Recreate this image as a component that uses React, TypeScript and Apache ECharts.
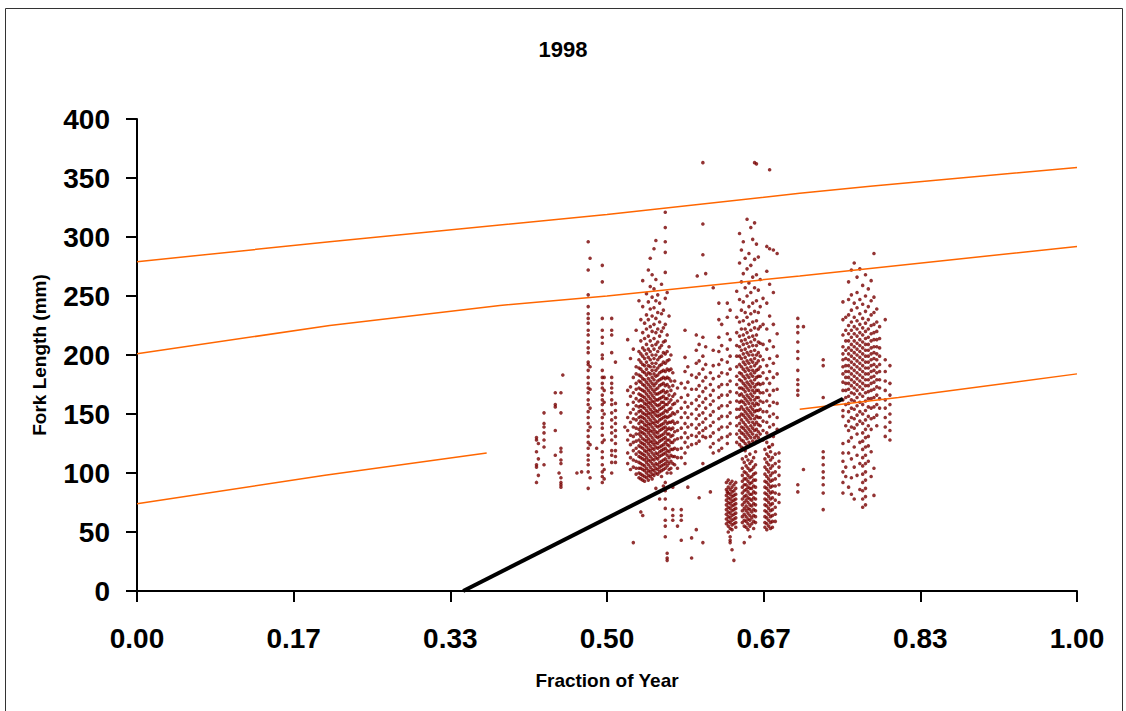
import React, { useEffect, useRef } from "react";
import * as echarts from "echarts";

type Column = [number, number[]];

// ---- Scatter data: columns of fish sampled at a given fraction of year (x) with fork lengths (mm)
const clusterEarly: Column[] = [
  [0.425, [130, 128, 118, 107, 105, 92]],
  [0.427, [125, 112, 98]],
  [0.433, [151, 142, 139, 134, 128, 122, 107]],
  [0.445, [168, 158, 156, 136, 115]],
  [0.449, [100]],
  [0.451, [168, 151, 121, 118, 111, 108, 96, 92, 90, 88]],
  [0.453, [183]],
];

const clusterJuly: Column[] = [
  [0.468, [100]],
  [0.473, [101]],
  [0.48, [296, 272, 251, 241, 235, 231, 227, 221, 217, 211, 206, 202, 194, 192, 187, 181, 176, 172, 168, 162, 158, 152, 147, 142, 136, 131, 126, 121, 115, 111, 107, 101, 87]],
  [0.482, [282, 190, 171, 155, 139, 124, 96]],
  [0.489, [121]],
  [0.495, [276, 262, 231, 221, 215, 210, 200, 197, 187, 181, 176, 172, 166, 162, 158, 153, 147, 142, 138, 132, 126, 118, 113, 107, 101, 97, 92]],
  [0.497, [181, 170, 160, 150, 128, 103, 95]],
  [0.505, [231, 221, 217, 202, 181, 176, 172, 168, 162, 158, 151, 145, 139, 134, 128, 119, 115, 109, 100]],
  [0.509, [194, 159, 153, 147, 142, 136, 131, 125, 119, 114, 109]],
  [0.519, [139]],
];

const clusterMain: Column[] = [
  [0.522, [213, 170, 158, 147, 136, 128, 117, 108]],
  [0.525, [197, 173, 165, 151, 143, 132, 124, 113, 103]],
  [0.528, [205, 181, 168, 160, 154, 146, 139, 131, 126, 119, 111, 105, 41]],
  [0.531, [221, 190, 184, 176, 171, 163, 157, 150, 145, 138, 133, 127, 121, 116, 110, 104, 99]],
  [0.534, [246, 203, 196, 189, 183, 178, 172, 167, 161, 156, 152, 147, 142, 137, 133, 128, 123, 118, 114, 109, 104, 100, 96]],
  [0.536, [230, 212, 201, 194, 188, 182, 177, 171, 166, 162, 157, 153, 148, 144, 139, 135, 131, 126, 122, 117, 113, 108, 104, 99, 95, 67]],
  [0.538, [263, 241, 219, 206, 199, 192, 186, 180, 175, 170, 165, 161, 156, 151, 147, 143, 138, 134, 129, 125, 121, 116, 112, 107, 103, 98, 94, 64]],
  [0.54, [227, 214, 204, 197, 191, 185, 179, 174, 169, 164, 159, 155, 150, 146, 141, 137, 133, 128, 124, 119, 115, 111, 106, 102, 97, 93]],
  [0.542, [252, 234, 222, 209, 201, 194, 188, 183, 177, 172, 167, 162, 158, 153, 149, 144, 140, 136, 131, 127, 122, 118, 113, 109, 104, 100, 96]],
  [0.544, [272, 245, 230, 216, 205, 198, 191, 185, 180, 175, 170, 165, 160, 156, 151, 147, 142, 138, 134, 129, 125, 120, 116, 111, 107, 102, 98, 94]],
  [0.546, [282, 258, 239, 224, 212, 203, 196, 190, 184, 178, 173, 168, 163, 159, 154, 150, 145, 141, 136, 132, 127, 123, 119, 114, 110, 105, 101, 97]],
  [0.548, [268, 249, 233, 220, 208, 200, 193, 187, 181, 176, 171, 166, 161, 157, 152, 148, 143, 139, 135, 130, 126, 121, 117, 112, 108, 103, 99, 95]],
  [0.55, [290, 256, 240, 226, 214, 205, 197, 190, 184, 179, 174, 169, 164, 160, 155, 151, 146, 142, 137, 133, 128, 124, 120, 115, 111, 106, 102, 98]],
  [0.552, [297, 264, 246, 231, 219, 209, 200, 193, 187, 182, 176, 171, 167, 162, 158, 153, 149, 144, 140, 135, 131, 126, 122, 117, 113, 108, 104, 100, 87]],
  [0.554, [251, 236, 222, 211, 203, 196, 189, 183, 178, 172, 167, 162, 157, 152, 148, 143, 139, 134, 130, 125, 121, 116, 112, 107, 103, 99]],
  [0.556, [244, 228, 216, 206, 198, 191, 185, 179, 174, 168, 163, 158, 154, 149, 145, 140, 136, 131, 127, 122, 118, 114, 109, 105, 101, 78]],
  [0.558, [260, 235, 220, 208, 199, 192, 186, 180, 175, 169, 164, 160, 155, 150, 146, 141, 137, 132, 128, 123, 119, 115, 110, 106, 102, 97]],
  [0.56, [238, 223, 211, 202, 194, 187, 181, 176, 170, 165, 160, 156, 151, 147, 142, 138, 133, 129, 124, 120, 116, 111, 107, 103, 89]],
  [0.562, [321, 308, 296, 287, 270, 248, 226, 212, 201, 193, 186, 180, 174, 168, 163, 158, 153, 148, 144, 139, 135, 130, 126, 121, 117, 112, 108, 104, 92, 85, 78, 70, 60, 55, 46]],
  [0.564, [253, 217, 203, 195, 188, 181, 175, 169, 163, 158, 152, 147, 142, 137, 133, 128, 124, 119, 115, 110, 106, 100, 32, 28, 26]],
  [0.566, [233, 207, 196, 187, 180, 173, 166, 160, 154, 148, 143, 138, 133, 128, 123, 118, 113, 108, 103]],
  [0.568, [200, 188, 178, 170, 162, 155, 149, 143, 137, 131, 126, 120, 115, 110, 104, 100]],
  [0.57, [185, 174, 165, 158, 151, 144, 138, 132, 126, 120, 114, 108, 88, 69, 64, 60]],
  [0.572, [178, 167, 159, 150, 142, 135, 128, 121, 114, 107]],
  [0.575, [172, 161, 152, 143, 136, 129, 120, 113, 104, 55]],
];

const clusterAugust: Column[] = [
  [0.579, [176, 164, 155, 147, 138, 130, 121, 113, 69, 64, 60, 43]],
  [0.583, [221, 198, 186, 172, 160, 151, 142, 134, 126, 117, 108]],
  [0.586, [190, 177, 166, 156, 147, 139, 130, 122, 88]],
  [0.59, [183, 171, 159, 150, 141, 132, 124, 45, 28]],
  [0.595, [217, 204, 193, 181, 171, 162, 154, 146, 138, 131, 125, 52]],
  [0.596, [267]],
  [0.598, [209, 195, 184, 174, 165, 157, 149, 141, 134, 127, 79]],
  [0.602, [363, 311, 285, 215, 199, 188, 178, 169, 160, 151, 143, 136, 131, 108, 41]],
  [0.605, [269, 207, 192, 181, 172, 163, 155, 146, 138, 130]],
  [0.61, [185, 175, 166, 158, 149, 140, 131, 122, 84]],
  [0.613, [257, 204, 191, 180, 170, 161, 152, 143, 134, 125, 117]],
  [0.619, [244, 230, 215, 203, 192, 182, 173, 164, 155, 146, 137, 128, 119]],
  [0.622, [226, 208, 196, 185, 175, 166, 157, 148, 139, 130, 121]],
  [0.628, [244, 232, 218, 205, 194, 184, 175, 166, 157, 148, 139, 131, 125, 84]],
  [0.631, [238, 213, 199, 188, 178, 169, 160, 151, 142, 133, 43]],
];

const clusterSeptUpper: Column[] = [
  [0.638, [254, 232, 219, 208, 199, 190, 182, 175, 168, 161, 154, 147, 140, 133, 126]],
  [0.641, [303, 278, 247, 228, 216, 207, 199, 192, 185, 179, 172, 166, 160, 154, 148, 142, 136, 130, 124]],
  [0.643, [289, 262, 238, 222, 212, 204, 197, 190, 184, 178, 172, 167, 161, 156, 150, 145, 139, 134, 128, 122]],
  [0.645, [296, 269, 245, 229, 217, 209, 201, 194, 188, 182, 176, 171, 165, 160, 154, 149, 143, 138, 133, 127, 121]],
  [0.647, [282, 257, 236, 222, 213, 205, 198, 192, 186, 180, 174, 169, 163, 158, 152, 147, 141, 136, 131, 125, 119]],
  [0.649, [315, 273, 250, 232, 219, 210, 202, 195, 189, 183, 177, 172, 166, 161, 155, 150, 145, 139, 134, 129, 123]],
  [0.651, [286, 261, 241, 226, 215, 207, 200, 193, 187, 181, 175, 170, 164, 159, 153, 148, 143, 137, 132, 126]],
  [0.653, [308, 276, 253, 235, 221, 211, 203, 196, 190, 184, 178, 173, 167, 162, 156, 151, 146, 140, 135, 130, 124]],
  [0.655, [298, 266, 244, 228, 216, 208, 200, 194, 187, 182, 176, 170, 165, 159, 154, 149, 143, 138, 133, 127]],
  [0.657, [363, 312, 281, 257, 237, 223, 213, 204, 197, 191, 185, 179, 173, 168, 162, 157, 152, 146, 141, 136, 130, 125]],
  [0.659, [362, 294, 268, 246, 229, 217, 208, 200, 193, 187, 181, 175, 170, 164, 159, 153, 148, 143, 137, 132, 127]],
  [0.661, [283, 255, 236, 222, 211, 202, 195, 188, 182, 176, 170, 164, 158, 153, 147, 141, 135, 130]],
  [0.663, [264, 241, 224, 210, 199, 190, 182, 175, 168, 161, 154, 147, 140, 133]],
  [0.666, [248, 226, 209, 196, 185, 176, 168, 160, 152, 144, 136, 128]],
  [0.67, [292, 271, 244, 222, 205, 191, 180, 170, 161, 152, 143, 134, 126]],
  [0.673, [357, 290, 260, 233, 212, 197, 186, 176, 166, 157, 148, 139, 131, 122]],
  [0.677, [289, 253, 226, 207, 193, 181, 170, 160, 150, 141, 131]],
  [0.681, [286, 218, 199, 184, 171, 159, 147, 137]],
];

const clusterSeptLower: Column[] = [
  [0.627, [92, 86, 81, 77, 73, 69, 65, 61, 57]],
  [0.629, [94, 88, 83, 79, 75, 71, 67, 63, 59, 55, 50]],
  [0.631, [91, 86, 82, 78, 74, 70, 66, 62, 58, 53, 46, 41]],
  [0.633, [93, 88, 84, 80, 76, 72, 68, 64, 60, 56, 52, 35]],
  [0.635, [90, 85, 81, 77, 73, 69, 65, 61, 57, 26]],
  [0.637, [92, 87, 82, 78, 74, 70, 66, 62, 58, 54]],
  [0.644, [112, 104, 98, 93, 88, 83, 78, 73, 68, 63, 58]],
  [0.646, [109, 101, 95, 90, 85, 80, 75, 70, 65, 60, 55, 41]],
  [0.648, [114, 106, 100, 95, 90, 86, 81, 77, 72, 68, 63, 59, 54]],
  [0.65, [111, 104, 98, 93, 88, 84, 79, 75, 70, 66, 61, 57, 52]],
  [0.652, [116, 108, 102, 96, 91, 87, 82, 78, 73, 69, 64, 60, 55, 46]],
  [0.654, [110, 103, 97, 92, 87, 82, 77, 72, 67, 62, 57]],
  [0.656, [113, 105, 99, 94, 89, 84, 79, 74, 69, 64, 59, 53]],
  [0.658, [118, 107, 100, 94, 88, 83, 78, 73, 68, 63, 58]],
  [0.668, [120, 112, 105, 99, 93, 88, 83, 78, 73, 68, 63, 58, 54]],
  [0.67, [116, 109, 103, 97, 92, 87, 82, 77, 72, 67, 62, 57, 52]],
  [0.672, [122, 114, 107, 101, 95, 90, 85, 80, 75, 70, 65, 60, 55]],
  [0.674, [118, 111, 104, 98, 93, 88, 83, 78, 73, 68, 63, 58, 53]],
  [0.676, [124, 113, 106, 100, 94, 89, 84, 79, 74, 69, 64, 59, 54]],
  [0.679, [116, 108, 101, 95, 89, 83, 77, 71, 65, 59]],
  [0.683, [117, 110, 105, 98, 90, 82, 75]],
];

const clusterOctober: Column[] = [
  [0.703, [231, 224, 219, 211, 203, 197, 187, 179, 175, 170, 166, 90, 84]],
  [0.709, [224, 103]],
  [0.73, [196, 191, 164, 118, 113, 107, 101, 96, 90, 83, 69]],
];

const clusterNovember: Column[] = [
  [0.751, [245, 230, 217, 207, 201, 196, 190, 184, 177, 170, 162, 153, 148, 125, 117, 110, 101, 92, 83]],
  [0.754, [232, 221, 212, 204, 197, 191, 186, 181, 176, 170, 164, 158, 140, 105, 97]],
  [0.757, [262, 247, 234, 225, 218, 212, 206, 201, 196, 191, 186, 181, 176, 171, 165, 159, 152, 144, 136, 127, 117, 88]],
  [0.76, [272, 251, 238, 228, 221, 215, 209, 204, 199, 194, 189, 184, 179, 174, 168, 162, 155, 147, 139, 130, 112, 96, 82]],
  [0.763, [278, 244, 232, 224, 218, 212, 207, 202, 197, 192, 187, 182, 177, 172, 167, 161, 154, 146, 138, 122, 105, 78]],
  [0.766, [266, 253, 240, 229, 222, 216, 210, 205, 200, 195, 190, 185, 180, 175, 170, 164, 157, 149, 141, 133, 115, 98]],
  [0.769, [273, 247, 235, 226, 219, 213, 208, 203, 198, 193, 188, 183, 178, 173, 167, 160, 152, 144, 126, 108, 86]],
  [0.772, [259, 243, 231, 223, 217, 211, 206, 201, 196, 191, 186, 181, 176, 171, 165, 158, 150, 142, 134, 127, 120, 113, 106, 99, 92, 85, 78, 71]],
  [0.775, [268, 250, 237, 227, 220, 214, 209, 204, 199, 194, 189, 184, 179, 174, 168, 161, 153, 145, 137, 130, 122, 115, 108, 101, 94, 87, 80, 73]],
  [0.778, [256, 241, 230, 222, 215, 209, 204, 199, 194, 189, 184, 179, 174, 169, 163, 156, 148, 140, 131, 123, 110]],
  [0.781, [263, 246, 234, 225, 218, 212, 206, 201, 196, 191, 186, 181, 176, 170, 163, 155, 146, 137, 118, 97]],
  [0.784, [286, 249, 236, 226, 219, 213, 207, 202, 197, 192, 187, 182, 177, 171, 164, 156, 147, 104, 81]],
  [0.787, [239, 228, 220, 213, 207, 201, 196, 190, 185, 179, 173, 166, 158, 149, 140]],
  [0.79, [224, 214, 206, 199, 192, 186, 179, 172, 163, 155]],
  [0.796, [230, 196, 186, 178, 170, 162, 155, 147, 139, 131]],
  [0.801, [191, 176, 166, 158, 150, 143, 136, 128]],
];

// ---- Reference growth curves (mm) by fraction of year
const upperCurve: [number, number][] = [[0, 279], [0.205, 296], [0.5, 319], [0.705, 337], [0.78, 343], [1, 359]];
const middleCurve: [number, number][] = [[0, 201], [0.205, 225], [0.386, 242], [0.5, 250], [0.705, 267], [1, 292]];
const lowerCurveEarly: [number, number][] = [[0, 74], [0.2, 98], [0.372, 117]];
const lowerCurveLate: [number, number][] = [[0.705, 154], [0.81, 164], [1, 184]];
const growthLine: [number, number][] = [[0.347, 0], [0.751, 163]];

const yTicks = { min: 0, max: 400, interval: 50 };
const xTicks = { min: 0, max: 1, interval: 1 / 6 };

const allColumns: Column[] = [
  ...clusterEarly,
  ...clusterJuly,
  ...clusterMain,
  ...clusterAugust,
  ...clusterSeptUpper,
  ...clusterSeptLower,
  ...clusterOctober,
  ...clusterNovember,
];

const FONT = "'Liberation Sans', Arial, sans-serif";

export default function App() {
  const ref = useRef<HTMLDivElement>(null);

  useEffect(() => {
    if (!ref.current) return;
    const chart = echarts.init(ref.current, null, { renderer: "svg" });
    const points = allColumns.flatMap(([x, ys]) => ys.map((y) => [x, y]));
    const orange = "#FF6600";
    const lineSeries = (data: [number, number][], color: string, width: number) => ({
      type: "line",
      data,
      symbol: "none",
      smooth: false,
      lineStyle: { color, width },
      silent: true,
      z: 3,
    });

    chart.setOption({
      animation: false,
      backgroundColor: "#ffffff",
      title: {
        text: "1998",
        left: "center",
        top: 33,
        textStyle: { fontFamily: FONT, fontWeight: "bold", fontSize: 22, color: "#000" },
      },
      graphic: [
        {
          type: "rect",
          shape: { x: 5.5, y: 8.5, width: 1117, height: 730 },
          style: { fill: "none", stroke: "#333", lineWidth: 1 },
          silent: true,
        },
      ],
      grid: { left: 137, right: 49, top: 119, bottom: 120, containLabel: false },
      xAxis: {
        type: "value",
        min: xTicks.min,
        max: xTicks.max,
        interval: xTicks.interval,
        name: "Fraction of Year",
        nameLocation: "middle",
        nameGap: 80,
        nameTextStyle: { fontFamily: FONT, fontWeight: "bold", fontSize: 19, color: "#000" },
        axisLine: { lineStyle: { color: "#000", width: 2 } },
        axisTick: { inside: false, length: 11, lineStyle: { color: "#000", width: 2 } },
        axisLabel: {
          formatter: (v: number) => v.toFixed(2),
          fontFamily: FONT,
          fontWeight: "bold",
          fontSize: 28,
          color: "#000",
          margin: 33,
          showMaxLabel: true,
          showMinLabel: true,
        },
        splitLine: { show: false },
      },
      yAxis: {
        type: "value",
        min: yTicks.min,
        max: yTicks.max,
        interval: yTicks.interval,
        name: "Fork Length (mm)",
        nameLocation: "middle",
        nameGap: 88,
        nameTextStyle: { fontFamily: FONT, fontWeight: "bold", fontSize: 19, color: "#000" },
        axisLine: { show: true, lineStyle: { color: "#000", width: 2 } },
        axisTick: { show: true, inside: false, length: 11, lineStyle: { color: "#000", width: 2 } },
        axisLabel: {
          fontFamily: FONT,
          fontWeight: "bold",
          fontSize: 28,
          color: "#000",
          margin: 27,
        },
        splitLine: { show: false },
      },
      series: [
        {
          type: "scatter",
          data: points,
          symbol: "circle",
          symbolSize: 3.6,
          itemStyle: { color: "#780000" },
          large: false,
          progressive: 0,
          silent: true,
          z: 2,
        },
        lineSeries(upperCurve, orange, 1.5),
        lineSeries(middleCurve, orange, 1.5),
        lineSeries(lowerCurveEarly, orange, 1.5),
        lineSeries(lowerCurveLate, orange, 1.5),
        { ...lineSeries(growthLine, "#000000", 4), z: 4 },
      ],
    });

    return () => chart.dispose();
  }, []);

  return (
    <div
      ref={ref}
      style={{ position: "absolute", left: 0, top: 0, width: 1126, height: 711 }}
    />
  );
}
